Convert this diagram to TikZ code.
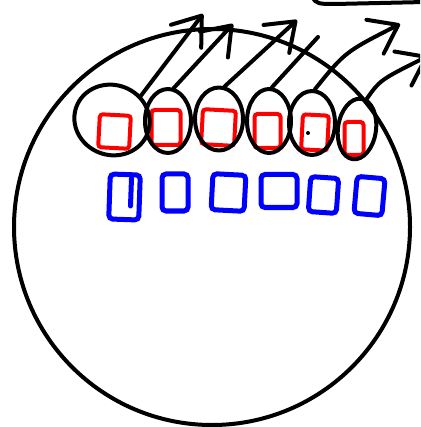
\documentclass[tikz,border=0pt]{standalone}
\usetikzlibrary{shapes.geometric,arrows.meta}
\begin{document}
\begin{tikzpicture}[x=1pt,y=-1pt,
  pen/.style={draw=black,line width=4pt,line cap=round,line join=round},
  ring/.style={pen,ellipse,inner sep=0pt},
  redbox/.style={draw=red,line width=4pt,rounded corners=3pt,inner sep=0pt},
  bluebox/.style={draw=blue,line width=5pt,rounded corners=4pt,inner sep=0pt},
  conn/.style={pen,-{Straight Barb[length=26pt,width=38pt,line width=4pt,round]}},
  plain/.style={pen}
]
\clip (0,0) rectangle (420,427);
\fill[white] (0,0) rectangle (420,427);
% big circle
\node[draw=black,line width=4pt,circle,minimum size=396pt,inner sep=0pt] (big) at (212,227) {};
% blue boxes
\node[bluebox,minimum width=30pt,minimum height=45pt,rotate=-2] (b1) at (124.5,197) {};
\node[bluebox,minimum width=26pt,minimum height=37pt] (b2) at (175,192.5) {};
\node[bluebox,minimum width=33pt,minimum height=36pt,rotate=-3] (b3) at (228.5,192.5) {};
\node[bluebox,minimum width=36pt,minimum height=33pt] (b4) at (279,191) {};
\node[bluebox,minimum width=28pt,minimum height=35pt,rotate=-4] (b5) at (323.5,195) {};
\node[bluebox,minimum width=28pt,minimum height=37pt,rotate=-5] (b6) at (369.5,196) {};
\draw[draw=blue,line width=5pt,line cap=round] (131.5,178) -- (130.5,206);
% red boxes
\node[redbox,minimum width=31pt,minimum height=33pt,rotate=-3] (r1) at (114.5,131.5) {};
\node[redbox,minimum width=29pt,minimum height=35pt] (r2) at (166,127.5) {};
\node[redbox,minimum width=33pt,minimum height=35pt,rotate=-3] (r3) at (218.5,127.5) {};
\node[redbox,minimum width=26pt,minimum height=34pt] (r4) at (267.5,131) {};
\node[redbox,minimum width=26pt,minimum height=35pt,rotate=-3] (r5) at (315,132.5) {};
\node[redbox,minimum width=19pt,minimum height=33pt] (r6) at (354,138.5) {};
\fill[black] (308,133) circle (2pt);
% ellipses
\node[ring,minimum width=76pt,minimum height=70pt,rotate=-20] (e1) at (112,120) {};
\node[ring,minimum width=46pt,minimum height=64pt] (e2) at (168,121) {};
\node[ring,minimum width=48pt,minimum height=63pt] (e3) at (219,119) {};
\node[ring,minimum width=44pt,minimum height=64pt] (e4) at (269,121) {};
\node[ring,minimum width=46pt,minimum height=64pt] (e5) at (312,123) {};
\node[ring,minimum width=38pt,minimum height=61pt,rotate=-8] (e6) at (357,129) {};
% arrow end points
\coordinate (t1) at (203,14);
\coordinate (t2) at (233,24);
\coordinate (t3) at (297,20);
\coordinate (t4) at (318,37);
\coordinate (t5) at (400,24);
\coordinate (t6) at (428,56);
\draw[conn] (e1.60) -- (t1);
\draw[conn] (e2.80) -- (t2);
\draw[conn] (e3.80) -- (t3);
\draw[plain] (e4.85) -- (t4);
\draw[conn] (e5.85) .. controls (345,52) .. (t5);
\draw[conn] (e6.80) .. controls (380,80) .. (t6);
% top partial shape
\draw[pen] (313,-3) .. controls (315,4) and (320,4) .. (335,4) -- (425,2);
\end{tikzpicture}
\end{document}
